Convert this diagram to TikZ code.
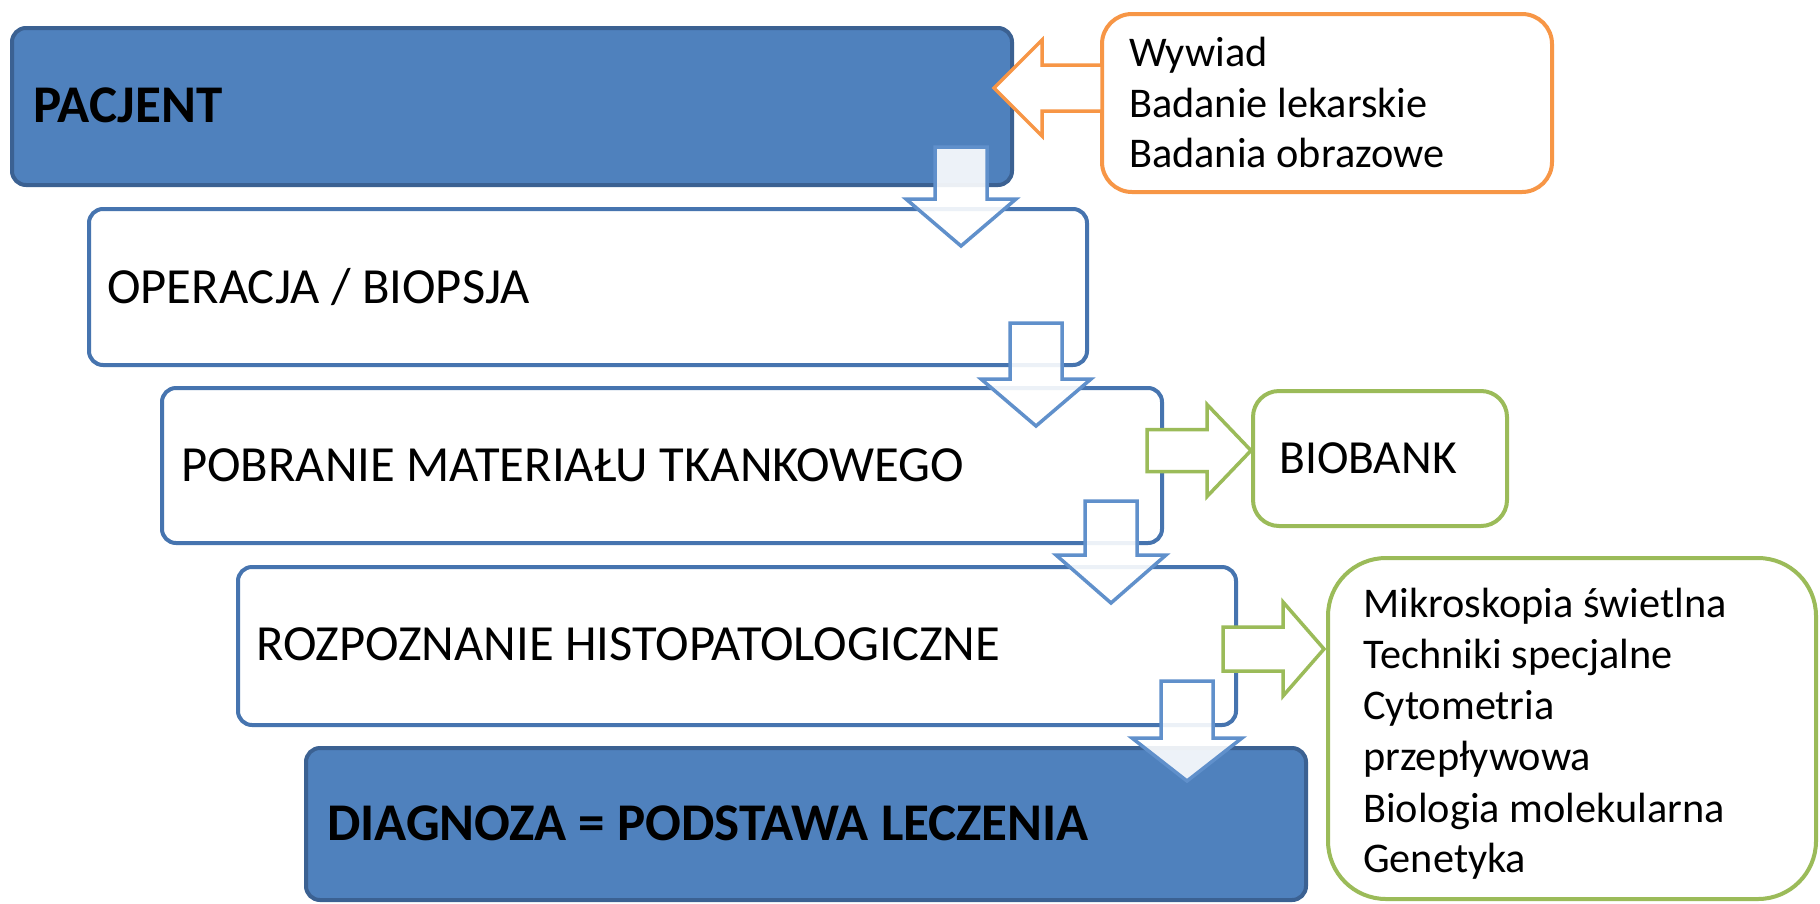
\documentclass[tikz,border=0pt]{standalone}
\usepackage{fontspec}
\setmainfont{Carlito}
\usetikzlibrary{calc}
\definecolor{bfill}{HTML}{4F81BD}
\definecolor{bdark}{HTML}{3B6192}
\definecolor{bline}{HTML}{4674AF}
\definecolor{aline}{HTML}{6090CB}
\definecolor{orng}{HTML}{F79646}
\definecolor{grn}{HTML}{9BBB59}
\newcommand\dnarrow[4]{% cx, top, head base, tip
  \draw[darrow] (#1-26,#2) -- (#1+26,#2) -- (#1+26,#3) -- (#1+55,#3) -- (#1,#4) -- (#1-55,#3) -- (#1-26,#3) -- cycle;}
\newcommand\rtarrow[7]{% style, shaft end, cy, shaft half, head base, head half, tip
  \draw[#1] (#2,#3-#4) -- (#5,#3-#4) -- (#5,#3-#6) -- (#7,#3) -- (#5,#3+#6) -- (#5,#3+#4) -- (#2,#3+#4) -- cycle;}
\begin{document}
\begin{tikzpicture}[x=1pt,y=-1pt,
  box/.style={line width=4pt, inner sep=0pt, outer sep=0pt, anchor=north west, rounded corners=14pt},
  bluebox/.style={box, draw=bdark, fill=bfill},
  whitebox/.style={box, draw=bline, fill=white},
  maintext/.style={anchor=base west, inner sep=0pt, font=\fontsize{50.6pt}{60pt}\selectfont},
  boldtext/.style={anchor=base west, inner sep=0pt, font=\fontsize{53pt}{60pt}\selectfont\bfseries},
  listtext/.style={anchor=base west, inner sep=0pt, font=\fontsize{42.3pt}{51pt}\selectfont},
  darrow/.style={draw=aline, line width=3.5pt, fill=white, fill opacity=0.9, line join=miter},
  garrow/.style={draw=grn, line width=3.5pt, fill=white, line join=miter},
  oarrow/.style={draw=orng, line width=3.5pt, fill=white, line join=miter}]
\useasboundingbox (0,0) rectangle (1820,903);
\fill[white] (0,0) rectangle (1820,903);

% main boxes
\node[bluebox, minimum width=1000pt, minimum height=157pt] (pac) at (12,28) {};
\node[whitebox, minimum width=998pt, minimum height=156pt] (ope) at (89,209) {};
\node[whitebox, minimum width=1000pt, minimum height=155pt] (pob) at (162,388) {};
\node[whitebox, minimum width=998pt, minimum height=158pt] (roz) at (238,567) {};
\node[bluebox, minimum width=1000pt, minimum height=152pt] (dia) at (306,748) {};

% side boxes
\node[box, draw=orng, fill=white, rounded corners=30pt, minimum width=450pt, minimum height=178pt] (wyw) at (1102,14) {};
\node[box, draw=grn, fill=white, rounded corners=26pt, minimum width=254pt, minimum height=135pt] (bio) at (1253,391) {};
\node[box, draw=grn, fill=white, rounded corners=58pt, minimum width=488pt, minimum height=341pt] (met) at (1328,558) {};

% main texts
\node[boldtext] (pact) at ($(pac.west)+(21,16)$) {PACJENT};
\node[maintext] (opet) at ($(ope.west)+(18,16)$) {OPERACJA / BIOPSJA};
\node[maintext] (pobt) at ($(pob.west)+(19,16)$) {POBRANIE MATERIAŁU TKANKOWEGO};
\node[maintext] (rozt) at ($(roz.west)+(18,14)$) {ROZPOZNANIE HISTOPATOLOGICZNE};
\node[boldtext] (diat) at ($(dia.west)+(21,16)$) {DIAGNOZA = PODSTAWA LECZENIA};
\node[maintext, font=\fontsize{47.5pt}{57pt}\selectfont] (biot) at (1279,473) {BIOBANK};

% lists
\node[listtext] (w1) at (1129,66) {Wywiad};
\node[listtext] (w2) at (1129,117) {Badanie lekarskie};
\node[listtext] (w3) at (1129,167) {Badania obrazowe};
\node[listtext] (m1) at (1363,617) {Mikroskopia świetlna};
\node[listtext] (m2) at (1363,668) {Techniki specjalne};
\node[listtext] (m3) at (1363,719) {Cytometria};
\node[listtext] (m4) at (1363,770) {przepływowa};
\node[listtext] (m5) at (1363,822) {Biologia molekularna};
\node[listtext] (m6) at (1363,872) {Genetyka};

% block arrows
\dnarrow{961}{147}{199}{246}
\dnarrow{1036}{323}{379}{426}
\dnarrow{1111}{501}{555}{603}
\dnarrow{1187}{681}{738}{781}
\rtarrow{garrow}{1147}{450.5}{21}{1207}{46}{1251}
\rtarrow{garrow}{1223}{649}{22}{1283}{47}{1324}
\rtarrow{oarrow}{1102}{88}{23}{1042}{48}{994}
\end{tikzpicture}
\end{document}
